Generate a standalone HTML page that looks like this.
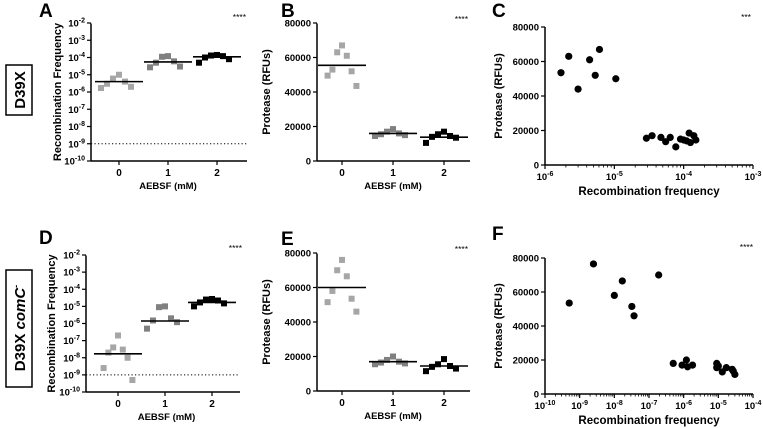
<!DOCTYPE html>
<html><head><meta charset="utf-8"><style>
html,body{margin:0;padding:0;background:#fff;}
svg{display:block;font-family:"Liberation Sans",Arial,sans-serif;}
</style></head><body>
<svg id="fig" width="763" height="428" viewBox="0 0 763 428" xmlns="http://www.w3.org/2000/svg"></svg>
<script>
// ---- data ----
const categories = ["0","1","2"];
const aValues = [[1e-5,6e-6,4e-6,3e-6,2e-6,1.7e-6],[1.2e-4,1.1e-4,6e-5,5e-5,3e-5,2.7e-5],[1.4e-4,1.3e-4,1.2e-4,1e-4,8e-5,5e-5]];
const aMedians = [4e-6,5.5e-5,1.1e-4];
const bValues = [[67000,63000,61000,53000,52000,49500,43500],[18500,17000,16000,15500,15000,14500],[17000,15500,14500,14000,13500,10500]];
const bMedians = [55500,16000,13800];
const cX = [1.7e-6,2.2e-6,3e-6,4.4e-6,5.3e-6,6.1e-6,1.05e-5,2.9e-5,3.5e-5,4.7e-5,5.5e-5,6.4e-5,7.7e-5,9e-5,1e-4,1.1e-4,1.2e-4,1.25e-4,1.4e-4,1.5e-4];
const cY = [53500,63000,44000,61000,52000,67000,50000,15500,17000,16000,13500,16000,10500,15000,14500,14000,18500,13000,17000,14500];
const dValues = [[2e-7,4e-8,3e-8,2e-8,1e-8,2.5e-9,5e-10],[1e-5,9e-6,2e-6,1.5e-6,1.2e-6,5e-7],[2.7e-5,2.5e-5,2.2e-5,1.7e-5,1.5e-5,1e-5]];
const dMedians = [1.7e-8,1.4e-6,1.7e-5];
const eValues = [[76000,70000,66500,58000,53500,51500,46000],[20000,18000,17000,16500,16000,15500],[18500,15500,14500,14000,13000,11500]];
const eMedians = [60000,17000,14500];
const fX = [5e-10,2.5e-9,1e-8,1.7e-8,3.2e-8,3.7e-8,1.9e-7,5e-7,9e-7,1.2e-6,1.3e-6,1.8e-6,9e-6,9e-6,1e-5,1.3e-5,1.7e-5,2.5e-5,2.7e-5,3e-5];
const fY = [53500,76500,58000,66500,51500,46000,70000,18000,17000,20000,16000,17000,18000,15500,16500,13000,15500,14500,13500,11500];
const linTicks = [0,20000,40000,60000,80000];
const logTicksY = [-10,-9,-8,-7,-6,-5,-4,-3,-2];
const logTicksC = [-6,-5,-4,-3];
const logTicksF = [-10,-9,-8,-7,-6,-5,-4];

const NS="http://www.w3.org/2000/svg";
const svg=document.getElementById('fig');
function mk(tag,attrs,parent,text){const e=document.createElementNS(NS,tag);for(const k in attrs)e.setAttribute(k,attrs[k]);if(text!==undefined)e.textContent=text;(parent||svg).appendChild(e);return e;}
function powLabel(g,x,y,p,anchor){
  const t=mk('text',{x:x,y:y,'text-anchor':anchor,'font-size':'9.5','font-weight':'bold'},g);
  
  
  const a=document.createElementNS(NS,'tspan');a.textContent='10';t.appendChild(a);
  const b=document.createElementNS(NS,'tspan');b.setAttribute('dy','-4');b.setAttribute('font-size','7');b.textContent=String(p);t.appendChild(b);
  return t;
}
function grayOf(i){return ['#a6a6a6','#808080','#000'][i];}

function catPanel(o){
  const g=mk('g',{});
  
  
  const yScale=o.log?(v=>o.y0+(Math.log10(v)-o.dmin)/(o.dmax-o.dmin)*(o.y1-o.y0)):(v=>o.y0+(v-o.dmin)/(o.dmax-o.dmin)*(o.y1-o.y0));
  const xScale=i=>o.cx[0]+i*(o.cx[1]-o.cx[0]);
  mk('line',{x1:o.ax,y1:o.y1+0.5,x2:o.ax,y2:o.y0,stroke:'#000','stroke-width':1.5},g);
  mk('line',{x1:o.ax,y1:o.y0,x2:o.xend,y2:o.y0,stroke:'#000','stroke-width':1.5},g);
  o.ticks.forEach(t=>{
    const yy=o.log?yScale(Math.pow(10,t)):yScale(t);
    mk('line',{x1:o.ax-4,y1:yy,x2:o.ax,y2:yy,stroke:'#000','stroke-width':1.2},g);
    if(o.log){powLabel(g,o.ax-6,yy+3.5,t,'end');}
    else{const tl=mk('text',{x:o.ax-6,y:yy+3.5,'text-anchor':'end','font-size':'9.5','font-weight':'bold'},g,String(t));}
  });
  if(o.dotted!==undefined){const yy=yScale(o.dotted);const l=mk('line',{x1:o.ax,y1:yy,x2:o.xend,y2:yy,stroke:'#000','stroke-width':1,'stroke-dasharray':'1.2,2.3'},g);}
  categories.forEach((c,i)=>{
    const xx=xScale(i);
    mk('line',{x1:xx,y1:o.y0,x2:xx,y2:o.y0+4,stroke:'#000','stroke-width':1.2},g);
    const tl=mk('text',{x:xx,y:o.y0+15,'text-anchor':'middle','font-size':'10','font-weight':'bold'},g,c);
    
    const vals=o.values[i];
    const n=vals.length;
    vals.forEach((v,j)=>{
      const off=(j%2===0?1:-1)*Math.ceil(j/2)*(n>6?4.8:6);
      const r=mk('rect',{x:xx+off-3,y:yScale(v)-3,width:6,height:6,fill:grayOf(i)},g);
      
      
    });
    const m=mk('line',{x1:xx-24,x2:xx+24,y1:yScale(o.medians[i]),y2:yScale(o.medians[i]),stroke:'#000','stroke-width':1.6},g);
    
  });
  const xt=mk('text',{x:(o.cx[0]+o.cx[2])/2,y:o.y0+28,'text-anchor':'middle','font-size':'9.5','font-weight':'bold'},g,'AEBSF (mM)');
  
  const ym=(o.y0+o.y1)/2;
  const yt=mk('text',{x:o.ytx,y:ym,'text-anchor':'middle','font-size':'11','font-weight':'bold',transform:`rotate(-90 ${o.ytx} ${ym})`,'xml:space':'preserve'},g,o.ytitle);
  
  const lt=mk('text',{x:o.lx,y:o.ly,'font-size':'19','font-weight':'bold'},g,o.letter);
  
  const st=mk('text',{x:o.sx,y:o.sy,'text-anchor':'end','font-size':'8.5'},g,o.stars);
  
}

function scatterPanel(o){
  const g=mk('g',{});
  
  
  const xScale=v=>o.ax+(Math.log10(v)-o.xmin)/(o.xmax-o.xmin)*(o.xend-o.ax);
  const yScale=v=>o.y0+v/80000*(o.y1-o.y0);
  mk('line',{x1:o.ax,y1:o.y1,x2:o.ax,y2:o.y0,stroke:'#000','stroke-width':1.5},g);
  mk('line',{x1:o.ax,y1:o.y0,x2:o.xend,y2:o.y0,stroke:'#000','stroke-width':1.5},g);
  linTicks.forEach(t=>{const yy=yScale(t);mk('line',{x1:o.ax-4,y1:yy,x2:o.ax,y2:yy,stroke:'#000','stroke-width':1.2},g);
    const tl=mk('text',{x:o.ax-6,y:yy+3.5,'text-anchor':'end','font-size':'9.5','font-weight':'bold'},g,String(t));});
  o.ticks.forEach((t,k)=>{
    const xx=xScale(Math.pow(10,t));
    mk('line',{x1:xx,y1:o.y0,x2:xx,y2:o.y0+4,stroke:'#000','stroke-width':1.2},g);
    powLabel(g,xx,o.y0+15,t,'middle');
    if(k<o.ticks.length-1){for(let m=2;m<10;m++){const mx=xScale(m*Math.pow(10,t));mk('line',{x1:mx,y1:o.y0,x2:mx,y2:o.y0+2.5,stroke:'#000','stroke-width':0.8},g);}}
  });
  o.xs.forEach((v,i)=>{const c=mk('circle',{cx:xScale(v),cy:yScale(o.ys[i]),r:3.6,fill:'#000'},g);
    
    });
  const xt=mk('text',{x:(o.ax+o.xend)/2,y:o.y0+30,'text-anchor':'middle','font-size':'11.5','font-weight':'bold'},g,'Recombination frequency');
  
  const ym=(o.y0+o.y1)/2;
  const yt=mk('text',{x:o.ytx,y:ym,'text-anchor':'middle','font-size':'11','font-weight':'bold',transform:`rotate(-90 ${o.ytx} ${ym})`},g,'Protease (RFUs)');
  
  const lt=mk('text',{x:o.lx,y:o.ly,'font-size':'19','font-weight':'bold'},g,o.letter);
  
  const st=mk('text',{x:o.sx,y:o.sy,'text-anchor':'end','font-size':'8.5'},g,o.stars);
  
}

catPanel({name:'panel-a',log:true,ax:91,y0:161,y1:23,dmin:-10,dmax:-2,cx:[119,168,217],xend:247,ticks:logTicksY,values:aValues,medians:aMedians,dotted:1e-9,ytitle:'Recombination  Frequency',ytx:61,letter:'A',lx:39,ly:17,stars:'****',sx:246,sy:20});
catPanel({name:'panel-b',log:false,ax:317,y0:161,y1:23,dmin:0,dmax:80000,cx:[342,393,444],xend:470,ticks:linTicks,values:bValues,medians:bMedians,ytitle:'Protease (RFUs)',ytx:270,letter:'B',lx:281,ly:17,stars:'****',sx:468,sy:22});
scatterPanel({name:'panel-c',ax:545,xend:753,xmin:-6,xmax:-3,y0:165,y1:27,ticks:logTicksC,xs:cX,ys:cY,ytx:502,letter:'C',lx:492,ly:17,stars:'***',sx:751,sy:20});
catPanel({name:'panel-d',log:true,ax:86,y0:392,y1:255,dmin:-10,dmax:-2,cx:[118,165,215],xend:240,ticks:logTicksY,values:dValues,medians:dMedians,dotted:1e-9,ytitle:'Recombination  Frequency',ytx:55,letter:'D',lx:39,ly:244,stars:'****',sx:242,sy:251});
catPanel({name:'panel-e',log:false,ax:317,y0:391,y1:253,dmin:0,dmax:80000,cx:[342,393,444],xend:470,ticks:linTicks,values:eValues,medians:eMedians,ytitle:'Protease (RFUs)',ytx:270,letter:'E',lx:281,ly:245,stars:'****',sx:468,sy:252});
scatterPanel({name:'panel-f',ax:545,xend:753,xmin:-10,xmax:-4,y0:394,y1:258,ticks:logTicksF,xs:fX,ys:fY,ytx:502,letter:'F',lx:492,ly:240,stars:'****',sx:753,sy:250});

// strain boxes
const b1=mk('rect',{x:6,y:65,width:26,height:50,fill:'none',stroke:'#000','stroke-width':1.5});

const t1=mk('text',{x:25,y:90,'text-anchor':'middle','font-size':'15','font-weight':'bold',transform:'rotate(-90 25 90)'},svg,'D39X');


const b2=mk('rect',{x:6,y:270,width:26,height:117,fill:'none',stroke:'#000','stroke-width':1.5});

const t2=mk('text',{x:25,y:328,'text-anchor':'middle','font-size':'15','font-weight':'bold',transform:'rotate(-90 25 328)'},svg);


const s1=document.createElementNS(NS,'tspan');s1.textContent='D39X ';t2.appendChild(s1);
const s2=document.createElementNS(NS,'tspan');s2.setAttribute('font-style','italic');s2.textContent='comC';t2.appendChild(s2);
const s3=document.createElementNS(NS,'tspan');s3.setAttribute('dy','-6');s3.setAttribute('font-size','9');s3.textContent='-';t2.appendChild(s3);
</script>
</body></html>
